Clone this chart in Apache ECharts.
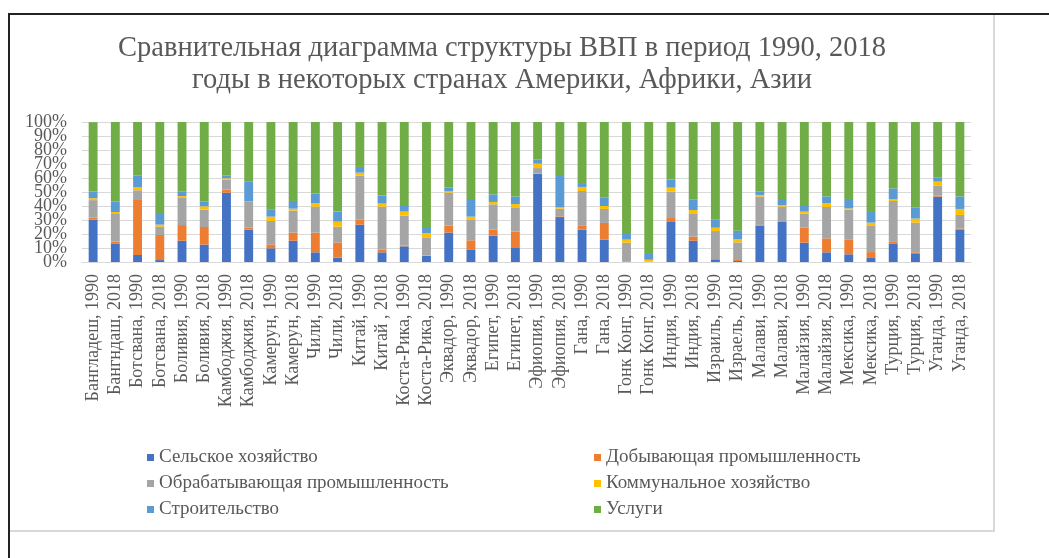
<!DOCTYPE html>
<html>
<head>
<meta charset="utf-8">
<script src="https://cdn.jsdelivr.net/npm/echarts@6/dist/echarts.min.js"></script>
<style>
html,body{margin:0;padding:0;background:#fff;}
#chart{width:1049px;height:558px;}
</style>
</head>
<body>
<div id="chart"></div>
<script>
const categories = [
  'Бангладеш, 1990','Бангндаш, 2018','Ботсвана, 1990','Ботсвана, 2018','Боливия, 1990','Боливия, 2018',
  'Камбоджия, 1990','Камбоджия, 2018','Камерун, 1990','Камерун, 2018','Чили, 1990','Чили, 2018',
  'Китай, 1990','Китай , 2018','Коста-Рика, 1990','Коста-Рика, 2018','Эквадор, 1990','Эквадор, 2018',
  'Египет, 1990','Египет, 2018','Эфиопия, 1990','Эфиопия, 2018','Гана, 1990','Гана, 2018',
  'Гонк Конг, 1990','Гонк Конг, 2018','Индия, 1990','Индия, 2018','Израиль, 1990','Израель, 2018',
  'Малави, 1990','Малави, 2018','Малайзия, 1990','Малайзия, 2018','Мексика, 1990','Мексика, 2018',
  'Турция, 1990','Турция, 2018','Уганда, 1990','Уганда, 2018'
];
const agriculture = [30.2,13.3,5.0,1.4,15.2,12.4,49.5,23.1,9.8,15.2,6.9,3.1,26.7,6.9,11.2,4.3,21.0,9.0,18.8,10.5,62.9,32.1,23.1,16.0,0.1,0.1,28.6,15.2,1.9,0.7,26.0,28.8,13.8,6.9,5.5,2.9,13.3,5.7,46.7,23.3];
const mining = [1.4,1.2,39.3,17.9,11.2,12.6,2.2,1.4,2.8,5.8,14.1,10.9,3.5,2.1,0.5,0.3,5.0,6.5,4.3,11.2,0.2,0.5,3.1,11.9,0,0,2.8,2.9,0.2,0.7,0.5,0.5,10.7,10.0,10.7,4.2,1.5,1.2,0.9,0.7];
const manufacturing = [12.6,19.8,6.9,5.9,19.3,12.4,7.3,18.4,16.7,15.7,18.5,11.2,31.5,30.5,21.4,13.0,23.5,15.0,18.1,16.9,4.0,5.5,24.5,10.0,13.7,0.1,18.8,16.2,20.0,12.6,20.2,10.2,10.0,22.4,21.2,19.1,28.8,21.2,6.9,9.6];
const utilities = [1.4,1.4,2.1,1.5,1.4,2.4,0.8,0.3,3.1,1.4,2.6,3.6,2.1,2.2,2.9,2.9,1.0,1.9,1.7,2.8,3.1,0.9,2.9,2.1,2.2,1.4,2.9,2.8,2.4,2.2,1.2,1.2,1.5,2.6,0.9,1.9,1.4,2.9,2.9,4.3];
const construction = [4.8,7.6,8.4,7.6,3.4,3.5,1.9,14.5,5.0,5.5,6.9,7.2,4.1,5.9,4.0,4.5,2.6,11.9,5.4,5.3,3.1,22.4,2.8,6.2,4.7,4.8,5.9,7.7,5.7,6.2,2.6,3.6,4.0,5.0,6.0,8.3,7.6,8.0,2.8,9.0];
const services = [49.5,56.7,38.3,65.7,49.5,56.7,38.3,42.4,62.6,56.4,51.0,64.0,32.1,52.4,60.0,75.0,46.9,55.7,51.7,53.3,26.7,38.6,43.6,53.8,79.3,93.6,41.0,55.2,69.8,77.6,49.5,55.7,60.0,53.1,55.7,63.6,47.4,61.0,39.8,53.1];
const yTicksInner = [10,20,30,40,50,60,70,80,90];
const yTicksEnds = [0,100];

const seriesNames = ['Сельское хозяйство','Добывающая промышленность','Обрабатывающая промышленность','Коммунальное хозяйство','Строительство','Услуги'];
const seriesData = [agriculture, mining, manufacturing, utilities, construction, services];
const colors = ['#4472C4','#ED7D31','#A5A5A5','#FFC000','#5B9BD5','#70AD47'];

const FONT = '"Liberation Serif", "DejaVu Serif", serif';
const yLabelStyle = {margin: 15, fontFamily: FONT, fontSize: 18, color: '#595959', lineHeight: 14};
const chart = echarts.init(document.getElementById('chart'), null, {renderer:'canvas'});
chart.setOption({
  animation: false,
  backgroundColor: '#ffffff',
  color: colors,
  title: {
    text: 'Сравнительная диаграмма структуры ВВП в период 1990, 2018\nгоды в некоторых странах Америки, Африки, Азии',
    left: 502, top: 33, padding: 0, textAlign: 'center',
    textStyle: {fontFamily: FONT, fontSize: 28.5, fontWeight: 'normal', color: '#595959', lineHeight: 32}
  },
  legend: [
    {
      data: [seriesNames[0], seriesNames[2], seriesNames[4]],
      orient: 'vertical', left: 147, top: 448, padding: 0,
      itemWidth: 7, itemHeight: 7, itemGap: 7, icon: 'rect',
      textStyle: {fontFamily: FONT, fontSize: 19, color: '#595959', lineHeight: 19}
    },
    {
      data: [seriesNames[1], seriesNames[3], seriesNames[5]],
      orient: 'vertical', left: 594, top: 448, padding: 0,
      itemWidth: 7, itemHeight: 7, itemGap: 7, icon: 'rect',
      textStyle: {fontFamily: FONT, fontSize: 19, color: '#595959', lineHeight: 19}
    }
  ],
  grid: {left: 82, right: 78, top: 122, bottom: 296, containLabel: false},
  xAxis: {
    type: 'category', data: categories,
    axisTick: {show: false},
    axisLine: {lineStyle: {color: '#D9D9D9', width: 1}},
    axisLabel: {rotate: 90, interval: 0, margin: 12, fontFamily: FONT, fontSize: 18, color: '#595959'}
  },
  yAxis: [
    {
      type: 'value', min: 0, max: 100, interval: 10, position: 'left',
      axisLine: {show: false}, axisTick: {show: false},
      splitLine: {lineStyle: {color: '#D9D9D9', width: 1}},
      axisLabel: Object.assign({formatter: v => yTicksInner.indexOf(v) >= 0 ? v + '%' : ''}, yLabelStyle)
    },
    {
      type: 'value', min: 0, max: 100, interval: 10, position: 'left', offset: 0,
      axisLine: {show: false}, axisTick: {show: false}, splitLine: {show: false},
      axisLabel: Object.assign({formatter: v => yTicksEnds.indexOf(v) >= 0 ? v + '%' : ''}, yLabelStyle)
    }
  ],
  series: seriesNames.map((n, i) => ({
    name: n, type: 'bar', stack: 'total', data: seriesData[i], yAxisIndex: 0,
    barWidth: '40%', itemStyle: {color: colors[i]}
  })),
  graphic: [
    {type: 'rect', shape: {x: 9, y: 14, width: 985, height: 517}, style: {fill: 'none', stroke: '#D9D9D9', lineWidth: 2}, silent: true},
    {type: 'line', shape: {x1: 9, y1: 14, x2: 1049, y2: 14}, style: {stroke: '#222', lineWidth: 2}, silent: true},
    {type: 'line', shape: {x1: 9, y1: 13, x2: 9, y2: 558}, style: {stroke: '#222', lineWidth: 2}, silent: true}
  ]
});
</script>
</body>
</html>
